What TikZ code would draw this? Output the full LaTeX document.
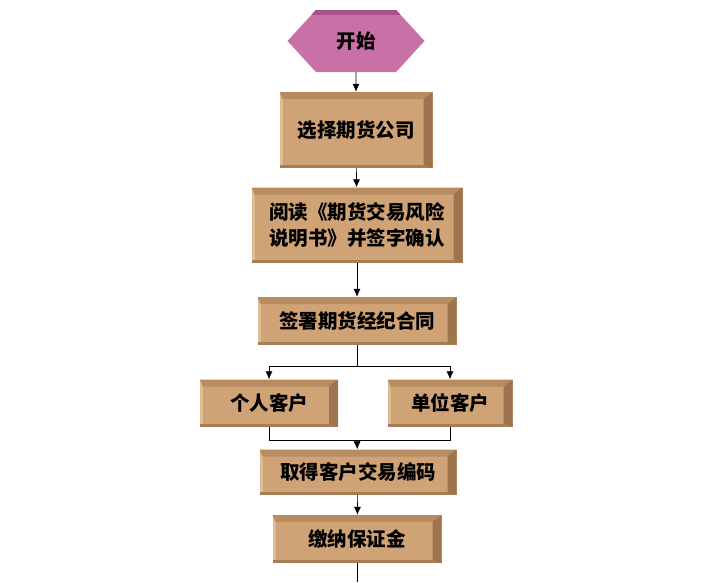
\documentclass[tikz,border=0pt]{standalone}
\usepackage{fontspec}
\newfontfamily\cjk{Noto Sans CJK SC}
\usetikzlibrary{shapes.symbols, arrows.meta}
\definecolor{boxfill}{RGB}{208,163,118}
\definecolor{boxtop}{RGB}{184,139,97}
\definecolor{boxside}{RGB}{158,116,78}
\definecolor{boxlight}{RGB}{224,188,148}
\definecolor{startfill}{RGB}{201,112,166}
\definecolor{starttop}{RGB}{170,82,136}
\tikzset{
        task/.style={rectangle, fill=boxfill, inner sep=0pt, align=center,
          font=\cjk\bfseries\fontsize{19.5}{26}\selectfont,
          path picture={
            \fill[boxlight] (path picture bounding box.north west) rectangle ([xshift=3pt]path picture bounding box.south west);
            \fill[boxside!80!boxfill] (path picture bounding box.south west) rectangle ([yshift=3pt]path picture bounding box.south east);
            \fill[boxtop] (path picture bounding box.north west) -- (path picture bounding box.north east)
              -- ([shift={(-9pt,-7pt)}]path picture bounding box.north east)
              -- ([shift={(3pt,-7pt)}]path picture bounding box.north west) -- cycle;
            \fill[boxside] (path picture bounding box.north east) -- (path picture bounding box.south east)
              -- ([shift={(-9pt,3pt)}]path picture bounding box.south east)
              -- ([shift={(-9pt,-7pt)}]path picture bounding box.north east) -- cycle;
          }},
        startnode/.style={signal, signal to=east and west, signal pointer angle=95,
          fill=startfill, inner sep=0pt, font=\cjk\bfseries\fontsize{19.5}{22}\selectfont,
          path picture={
            \fill[starttop] (path picture bounding box.north west) rectangle ([yshift=-5pt]path picture bounding box.north east);
          }},
        arr/.style={-{Latex[length=8pt,width=7pt]}, line width=0.6pt},
        link/.style={line width=0.6pt}
          }
\begin{document}
\begin{tikzpicture}[x=1pt, y=-1pt]
        \useasboundingbox[fill=white] (0,0) rectangle (720,582);
        \node[startnode, minimum width=137pt, minimum height=62pt] (start) at (356,41) {开始};
        \node[task, minimum width=153pt, minimum height=76pt] (firm) at (356,130) {选择期货公司};
        \node[task, minimum width=211pt, minimum height=75pt] (read) at (357,225) {阅读《期货交易风险\\说明书》并签字确认};
        \node[task, minimum width=199pt, minimum height=48pt] (sign) at (357,321) {签署期货经纪合同};
        \node[task, minimum width=138pt, minimum height=47pt] (person) at (269,403) {个人客户};
        \node[task, minimum width=125pt, minimum height=47pt] (unit) at (450,403) {单位客户};
        \node[task, minimum width=197pt, minimum height=45pt] (code) at (358,472) {取得客户交易编码};
        \node[task, minimum width=169pt, minimum height=48pt] (margin) at (357,539) {缴纳保证金};
        \coordinate (split) at (357,366);
        \coordinate (join) at (357,440);
        \coordinate (next) at (357,582);

        \draw[arr] (start) -- (firm);
        \draw[arr] (firm) -- (read);
        \draw[arr] (read) -- (sign);
        \draw[link] (sign) -- (split);
        \draw[arr] (split) -| (person);
        \draw[arr] (split) -| (unit);
        \draw[link] (person) |- (join);
        \draw[link] (unit) |- (join);
        \draw[arr] (join) -- (code);
        \draw[arr] (code) -- (margin);
        \draw[link] (margin) -- (next);
\end{tikzpicture}
\end{document}
